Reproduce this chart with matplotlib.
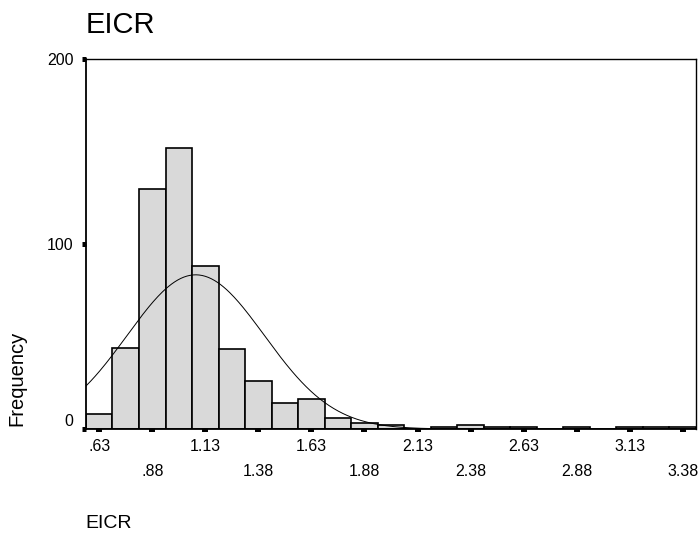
import numpy as np
import matplotlib
matplotlib.use('Agg')
import matplotlib.pyplot as plt
from matplotlib.transforms import ScaledTranslation

plt.rcParams['font.family'] = ['Liberation Sans', 'DejaVu Sans']

# EICR histogram, bin width 0.125, counts
bin_centers = [0.625, 0.75, 0.875, 1.0, 1.125, 1.25, 1.375, 1.5, 1.625, 1.75,
               1.875, 2.0, 2.125, 2.25, 2.375, 2.5, 2.625, 2.75, 2.875, 3.0,
               3.125, 3.25, 3.375]
counts = [8, 44, 130, 152, 88, 43, 26, 14, 16, 6,
          3, 2, 0, 1, 2, 1, 1, 0, 1, 0,
          1, 1, 1]
bin_width = 0.125

upper_ticks = [0.625, 1.125, 1.625, 2.125, 2.625, 3.125]
upper_labels = ['.63', '1.13', '1.63', '2.13', '2.63', '3.13']
lower_ticks = [0.875, 1.375, 1.875, 2.375, 2.875, 3.375]
lower_labels = ['.88', '1.38', '1.88', '2.38', '2.88', '3.38']
y_ticks = [0, 100, 200]
y_labels = ['0', '100', '200']

# normal curve fitted to the binned data (as SPSS draws it)
c = np.array(bin_centers)
n = np.array(counts)
N = n.sum()
mu = (c * n).sum() / N
sd = np.sqrt(((c - mu) ** 2 * n).sum() / (N - 1))

fig = plt.figure(figsize=(6.99, 5.33), dpi=100)
ax = fig.add_axes([0.1230, 0.1951, 0.8727, 0.6942])

ax.bar(bin_centers, counts, width=bin_width, color='#d9d9d9',
       edgecolor='black', linewidth=1.2, zorder=2)

xmin = bin_centers[0] - bin_width / 2
xmax = bin_centers[-1] + bin_width / 2
xs = np.linspace(xmin, xmax, 400)
ys = N * bin_width / (sd * np.sqrt(2 * np.pi)) * np.exp(-(xs - mu) ** 2 / (2 * sd ** 2))
ax.plot(xs, ys, color='black', linewidth=0.7, zorder=3)

ax.set_xlim(xmin, xmax)
ax.set_ylim(0, 200)

ax.set_xticks(upper_ticks, labels=upper_labels)
ax.set_xticks(lower_ticks, labels=lower_labels, minor=True)
ax.set_yticks(y_ticks, labels=y_labels)

ax.tick_params(axis='x', which='both', direction='out', length=2.5, width=4.3,
               labelsize=11.5, pad=5.0)
ax.tick_params(axis='x', which='minor', pad=23.0)
ax.tick_params(axis='y', direction='out', length=3, width=3.6,
               labelsize=11.5, pad=6.0)

for sp in ax.spines.values():
    sp.set_linewidth(1.0)
ax.spines['left'].set_linewidth(1.3)
ax.spines['bottom'].set_linewidth(1.3)

# SPSS nudges the "0" label up off the corner
zero_lab = ax.yaxis.get_major_ticks()[0].label1
zero_lab.set_transform(zero_lab.get_transform() +
                       ScaledTranslation(0, 0.09, fig.dpi_scale_trans))

fig.text(86 / 699, 1 - 33.3 / 533, 'EICR', fontsize=21, ha='left', va='baseline')
fig.text(85 / 699, 1 - 528 / 533, 'EICR', fontsize=14, ha='left', va='baseline')
fig.text(17 / 699, 1 - 378 / 533, 'Frequency', fontsize=14.5, rotation=90,
         ha='center', va='center')

fig.savefig('out.png', dpi=100)
